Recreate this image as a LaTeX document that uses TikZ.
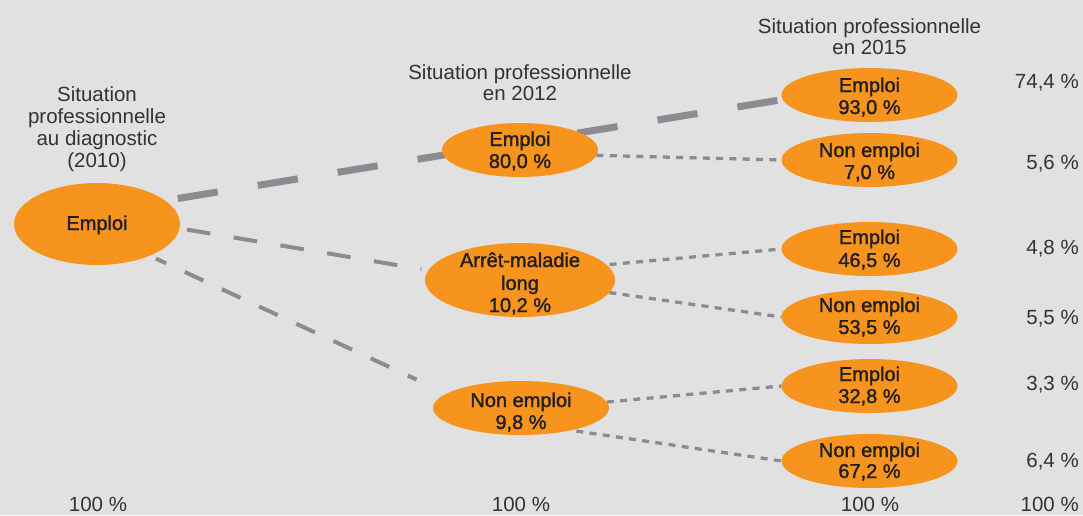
\documentclass[tikz,border=0pt]{standalone}
\usepackage{fontspec}
\setmainfont{Liberation Sans}
\newfontfamily\medfont{Liberation Sans}[FakeBold=1.6]
\usetikzlibrary{shapes.geometric}
\definecolor{bgc}{HTML}{E1E1E1}
\definecolor{orng}{HTML}{F7941D}
\definecolor{lgray}{HTML}{8B8B91}
\definecolor{ttc}{HTML}{333333}
\definecolor{etc}{HTML}{231F20}
\pgfdeclarelayer{bg}
\pgfdeclarelayer{lines}
\pgfsetlayers{bg,lines,main}
\begin{document}
\begin{tikzpicture}[x=1pt,y=-1pt,
  ell/.style={ellipse,fill=orng,draw=none,inner sep=0pt,outer sep=0pt},
  small/.style={ell,minimum width=176,minimum height=54},
  ttl/.style={font=\fontsize{20.5}{22}\selectfont,text=ttc,anchor=base,inner sep=0pt},
  rnum/.style={ttl,anchor=base east},
  etx/.style={font=\medfont\fontsize{20}{22}\selectfont,text=etc,anchor=base,inner sep=0pt},
  bigdash/.style={draw=lgray,line width=7pt,dash pattern=on 40.5pt off 40.5pt},
  meddash/.style={draw=lgray,line width=4pt},
  dotline/.style={draw=lgray,line width=3.3pt,dash pattern=on 7pt off 6.3pt}]
\useasboundingbox (0,0) rectangle (1083,515);
\begin{pgfonlayer}{bg}
  \fill[bgc] (0,0) rectangle (1083,515);
\end{pgfonlayer}

% ellipses
\node[ell,minimum width=166,minimum height=82] (A) at (97,224) {};
\node[ell,minimum width=156,minimum height=54] (B1) at (520,150) {};
\node[ell,minimum width=190,minimum height=74] (B2) at (520,280) {};
\node[ell,minimum width=176,minimum height=54] (B3) at (521,408) {};
\node[small] (C1) at (869.5,95) {};
\node[small] (C2) at (869.5,160) {};
\node[small] (C3) at (869.5,249) {};
\node[small] (C4) at (869.5,317) {};
\node[small] (C5) at (869.5,386) {};
\node[small] (C6) at (869.5,461) {};

% connectors
\begin{pgfonlayer}{lines}
  \draw[bigdash,shorten <=12.9pt,shorten >=5.3pt] (A.19.3) -- (C1.183.1);
  \draw[meddash,dash pattern=on 23.7pt off 23.7pt,shorten <=7.5pt,shorten >=6.9pt] (A.-3.8) -- (B2.174.5);
  \draw[meddash,dash pattern=on 20.5pt off 20.5pt,dash phase=9.3pt,shorten <=6.9pt,shorten >=33.2pt] (A.-31.5) -- (B3.169.5);
  \draw[dotline] (B1.-4.5) -- (C2.180);
  \draw[dotline,shorten <=3pt] (B2.10.9) -- (C3.180);
  \draw[dotline] (B2.-8.4) -- (C4.180);
  \draw[dotline] (B3.4.1) -- (C5.180);
  \draw[dotline,shorten <=5.5pt] (B3.-24) -- (C6.180);
\end{pgfonlayer}

% titles
\node[ttl] (t0a) at (97,101) {Situation};
\node[ttl] (t0b) at (97,123) {professionnelle};
\node[ttl] (t0c) at (97,145) {au diagnostic};
\node[ttl] (t0d) at (97,167) {(2010)};
\node[ttl] (t1a) at (520,79) {Situation professionnelle};
\node[ttl] (t1b) at (520,100) {en 2012};
\node[ttl] (t2a) at (869.5,33) {Situation professionnelle};
\node[ttl] (t2b) at (869.5,54) {en 2015};

% ellipse texts
\node[etx] (At) at (97,230) {Emploi};
\node[etx] (B1a) at (520,146) {Emploi};
\node[etx] (B1b) at (520,168) {80,0 \%};
\node[etx] (B2a) at (520,267) {Arrêt-maladie};
\node[etx] (B2b) at (520,290) {long};
\node[etx] (B2c) at (520,312) {10,2 \%};
\node[etx] (B3a) at (521,407) {Non emploi};
\node[etx] (B3b) at (521,429) {9,8 \%};
\node[etx] (C1a) at (869.5,92) {Emploi};
\node[etx] (C1b) at (869.5,114) {93,0 \%};
\node[etx] (C2a) at (869.5,157) {Non emploi};
\node[etx] (C2b) at (869.5,179) {7,0 \%};
\node[etx] (C3a) at (869.5,244) {Emploi};
\node[etx] (C3b) at (869.5,267) {46,5 \%};
\node[etx] (C4a) at (869.5,312) {Non emploi};
\node[etx] (C4b) at (869.5,334) {53,5 \%};
\node[etx] (C5a) at (869.5,381) {Emploi};
\node[etx] (C5b) at (869.5,403) {32,8 \%};
\node[etx] (C6a) at (869.5,457) {Non emploi};
\node[etx] (C6b) at (869.5,478) {67,2 \%};

% right percentages
\node[rnum] (r1) at (1079,88) {74,4 \%};
\node[rnum] (r2) at (1079,169) {5,6 \%};
\node[rnum] (r3) at (1079,254) {4,8 \%};
\node[rnum] (r4) at (1079,324) {5,5 \%};
\node[rnum] (r5) at (1079,390) {3,3 \%};
\node[rnum] (r6) at (1079,467) {6,4 \%};

% bottom totals
\node[ttl] (s0) at (98,511) {100 \%};
\node[ttl] (s1) at (521,511) {100 \%};
\node[ttl] (s2) at (870,511) {100 \%};
\node[rnum] (s3) at (1079,511) {100 \%};
\end{tikzpicture}
\end{document}
